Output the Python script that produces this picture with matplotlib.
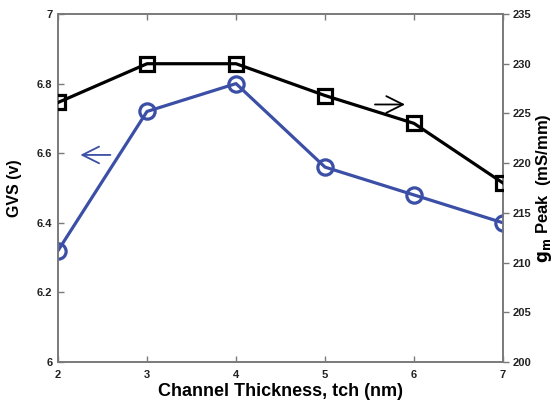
import matplotlib.pyplot as plt

plt.rcParams['font.family'] = ['Liberation Sans', 'DejaVu Sans']

tch = [2, 3, 4, 5, 6, 7]
gvs = [6.32, 6.72, 6.80, 6.56, 6.48, 6.40]
gm_peak = [226.1, 230, 230, 226.8, 224, 218]

left_ticks = [6, 6.2, 6.4, 6.6, 6.8, 7]
right_ticks = [200, 205, 210, 215, 220, 225, 230, 235]

blue = '#3b4fa6'
spine_grey = '#7a7a7a'

fig = plt.figure(figsize=(5.53, 4.05), dpi=100)
ax = fig.add_axes([0.1049, 0.1062, 0.8047, 0.8592])
ax2 = ax.twinx()

ax.plot(tch, gvs, color=blue, lw=2.3, marker='o', ms=11, mfc='none',
        mec=blue, mew=2.3, zorder=3)
ax2.plot(tch, gm_peak, color='black', lw=2.3, marker='s', ms=10.5, mfc='none',
         mec='black', mew=2.3, zorder=3)

ax.set_xlim(2, 7)
ax.set_ylim(6, 7)
ax2.set_ylim(200, 235)
ax.set_xticks(tch)
ax.set_yticks(left_ticks)
ax.set_yticklabels(['6', '6.2', '6.4', '6.6', '6.8', '7'])
ax2.set_yticks(right_ticks)

for a in (ax, ax2):
    for s in a.spines.values():
        s.set_color(spine_grey)
        s.set_linewidth(1.2)
ax.tick_params(axis='both', direction='in', length=4, width=1, color=spine_grey,
               labelsize=8, pad=4, top=True)
ax.tick_params(axis='x', pad=6)
ax2.tick_params(axis='y', direction='out', length=4, width=1, color=spine_grey,
                labelsize=8, pad=3)
for lab in ax.get_xticklabels() + ax.get_yticklabels() + ax2.get_yticklabels():
    lab.set_fontweight('bold')
    lab.set_color('#222222')

ax.set_xlabel('Channel Thickness, tch (nm)', fontsize=13, fontweight='bold', labelpad=2)
ax.set_ylabel('GVS (v)', fontsize=11.5, fontweight='bold', labelpad=11)
ax2.set_ylabel(r'$\mathbf{g_m}$ Peak  (mS/mm)', fontsize=12, fontweight='bold', labelpad=2)

# arrows pointing each curve to its axis
ax.annotate('', xy=(2.22, 6.595), xytext=(2.62, 6.595),
            arrowprops=dict(arrowstyle='->', color=blue, lw=1.3, mutation_scale=30))
ax.annotate('', xy=(5.93, 6.74), xytext=(5.53, 6.74),
            arrowprops=dict(arrowstyle='->', color='black', lw=1.3, mutation_scale=30))

fig.savefig('out.png', dpi=100)
